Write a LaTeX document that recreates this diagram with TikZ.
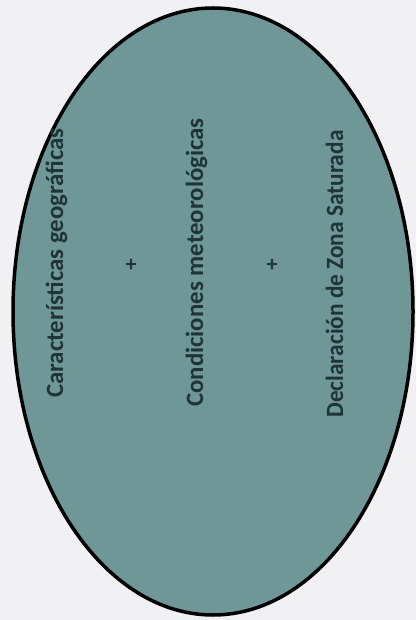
\documentclass[tikz,border=0pt]{standalone}
\usepackage{fontspec}
\setmainfont{Carlito}
\usetikzlibrary{shapes.geometric}
\definecolor{bgc}{HTML}{F1F1F3}
\definecolor{ellfill}{HTML}{6F9798}
\definecolor{txtc}{HTML}{1E3436}
\begin{document}
\begin{tikzpicture}[x=1pt,y=1pt,
  lbl/.style={rotate=90,anchor=base,text=txtc,font=\fontsize{24.8}{29}\selectfont\bfseries,inner sep=0pt},
  plussign/.style={text=txtc,font=\fontsize{22}{26}\selectfont\bfseries,inner sep=0pt}]
\path[fill=bgc] (0,0) rectangle (416,620);
\useasboundingbox (0,0) rectangle (416,620);
\node[ellipse,draw=black,line width=3.5pt,fill=ellfill,minimum width=400pt,minimum height=607pt,inner sep=0pt] (ell) at (213,308.5) {};
\node[lbl] (geo) at (63,357) {Características geográficas};
\node[plussign] (p1) at (131,355) {+};
\node[lbl] (met) at (203,357.5) {Condiciones meteorológicas};
\node[plussign] (p2) at (272,355) {+};
\node[lbl,xscale=0.94] (zona) at (343,346) {Declaración de Zona Saturada};
\end{tikzpicture}
\end{document}
